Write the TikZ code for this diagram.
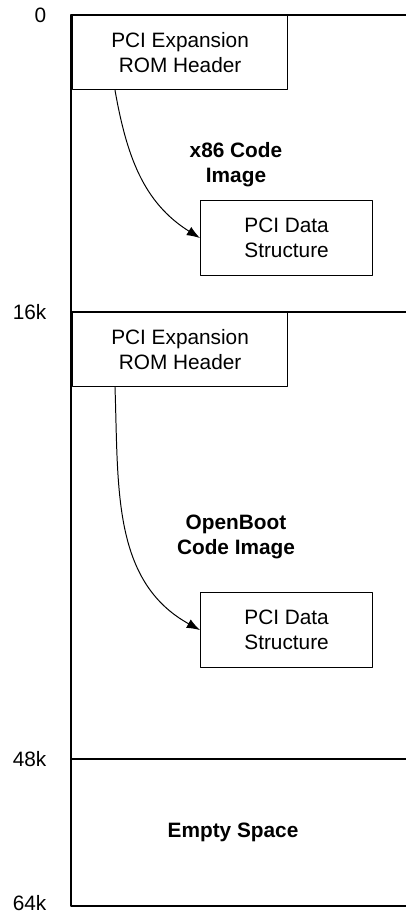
\documentclass[tikz,border=0pt]{standalone}
\usepackage{fontspec}
\setmainfont{Liberation Sans}
\usetikzlibrary{arrows.meta}

\begin{document}
\begin{tikzpicture}[x=0.025cm,y=-0.025cm,line cap=round,line join=round,
  romblock/.style={draw,line width=0.8pt,minimum width=5.375cm,minimum height=1.85cm,inner sep=0pt,anchor=north west,align=center,font=\fontsize{14.8}{17.8}\selectfont},
  datablock/.style={romblock,minimum width=4.3cm,minimum height=1.875cm},
  region/.style={align=center,font=\fontsize{14.8}{17.8}\selectfont\bfseries},
  offset/.style={anchor=east,inner sep=1pt,font=\fontsize{14.8}{17.8}\selectfont},
  pointer/.style={-{Latex[length=3.3mm,width=2.4mm]},line width=0.7pt}]
\useasboundingbox (0,0) rectangle (406,913);
% address marks and image boundaries
\foreach \y/\lab [count=\i] in {15/0,312/16k,759/48k,903/64k}{\node[offset] (off\i) at (48,\y) {\lab};}
\draw[line width=1.4pt] (406,15)--(71,15)--(71,906)--(406,906);
\draw[line width=1.4pt] (71,312)--(406,312) (71,759)--(406,759);
% x86 image
\node[romblock] (hdrA) at (72,15) {PCI Expansion\\ROM Header};
\node[datablock] (dataA) at (200,200) {PCI Data\\Structure};
\node[region] (codeA) at (236,165) {x86 Code\\Image};
\draw[pointer] (hdrA.south west) ++(43,0) to[out=-80,in=148] (dataA.west);
% OpenBoot image
\node[romblock] (hdrB) at (72,312) {PCI Expansion\\ROM Header};
\node[datablock] (dataB) at (200,592) {PCI Data\\Structure};
\node[region] (codeB) at (236,537) {OpenBoot\\Code Image};
\draw[pointer] (hdrB.south west) ++(43,0) to[out=-88,in=151] (dataB.west);
% unused tail
\node[region] (empty) at (233,832) {Empty Space};
\end{tikzpicture}
\end{document}
